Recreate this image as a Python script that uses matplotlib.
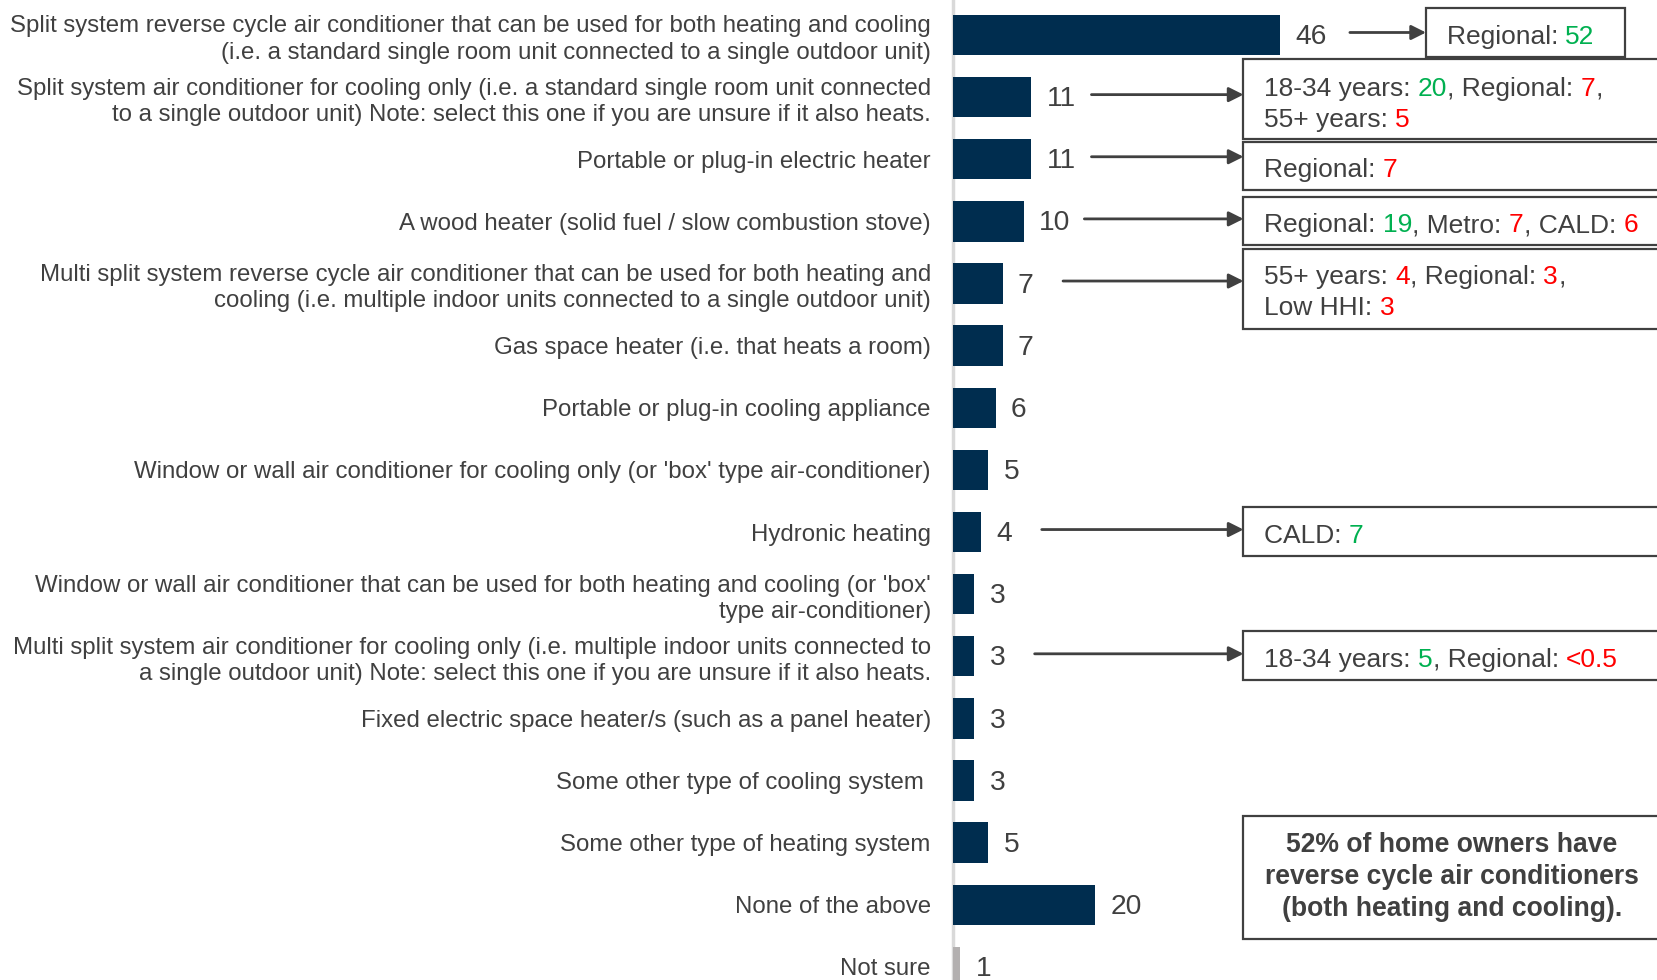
import matplotlib
matplotlib.use("Agg")
import matplotlib.pyplot as plt
from matplotlib.patches import Rectangle

plt.rcParams["font.family"] = ["Liberation Sans", "DejaVu Sans"]

GREY = "#404040"
GREEN = "#00B050"
RED = "#FF0000"
NAVY = "#002D4F"
LIGHT = "#B3B0B0"

categories = [
    "Split system reverse cycle air conditioner that can be used for both heating and cooling\n"
    "(i.e. a standard single room unit connected to a single outdoor unit)",
    "Split system air conditioner for cooling only (i.e. a standard single room unit connected\n"
    "to a single outdoor unit) Note: select this one if you are unsure if it also heats.",
    "Portable or plug-in electric heater",
    "A wood heater (solid fuel / slow combustion stove)",
    "Multi split system reverse cycle air conditioner that can be used for both heating and\n"
    "cooling (i.e. multiple indoor units connected to a single outdoor unit)",
    "Gas space heater (i.e. that heats a room)",
    "Portable or plug-in cooling appliance",
    "Window or wall air conditioner for cooling only (or 'box' type air-conditioner)",
    "Hydronic heating",
    "Window or wall air conditioner that can be used for both heating and cooling (or 'box'\n"
    "type air-conditioner)",
    "Multi split system air conditioner for cooling only (i.e. multiple indoor units connected to\n"
    "a single outdoor unit) Note: select this one if you are unsure if it also heats.",
    "Fixed electric space heater/s (such as a panel heater)",
    "Some other type of cooling system ",
    "Some other type of heating system",
    "None of the above",
    "Not sure",
]
values = [46, 11, 11, 10, 7, 7, 6, 5, 4, 3, 3, 3, 3, 5, 20, 1]

# subgroup callouts: row -> lines of (text, colour) pieces
callout_rows = [0, 1, 2, 3, 4, 8, 10]
callout_lines = [
    [[("Regional: ", GREY), ("52", GREEN)]],
    [[("18-34 years: ", GREY), ("20", GREEN), (", Regional: ", GREY), ("7", RED), (",", GREY)],
     [("55+ years: ", GREY), ("5", RED)]],
    [[("Regional: ", GREY), ("7", RED)]],
    [[("Regional: ", GREY), ("19", GREEN), (", Metro: ", GREY), ("7", RED),
      (", CALD: ", GREY), ("6", RED)]],
    [[("55+ years: ", GREY), ("4", RED), (", Regional: ", GREY), ("3", RED), (",", GREY)],
     [("Low HHI: ", GREY), ("3", RED)]],
    [[("CALD: ", GREY), ("7", GREEN)]],
    [[("18-34 years: ", GREY), ("5", GREEN), (", Regional: ", GREY), ("<0.5", RED)]],
]
summary_text = ("52% of home owners have\nreverse cycle air conditioners\n"
                "(both heating and cooling).")

W, H = 1658, 980
fig = plt.figure(figsize=(W / 100, H / 100), dpi=100)
x0 = 953
ax = fig.add_axes([x0 / W, 0, (W - x0) / W, 1])
ax.set_xlim(0, (W - x0) / 7.1)
ax.set_ylim(15.21, -0.563)
for s in ax.spines.values():
    s.set_visible(False)
ax.set_xticks([])

rows = list(range(len(values)))
colors = [NAVY] * (len(values) - 1) + [LIGHT]
ax.barh(rows, values, height=0.65, color=colors)
ax.axvline(0, color="#D9D9D9", lw=2.5, clip_on=False, zorder=0)

ax.set_yticks(rows)
ax.set_yticklabels(categories, fontsize=17.3, color=GREY, linespacing=1.25)
ax.tick_params(axis="y", length=0, pad=16)

for r, v in zip(rows, values):
    ax.annotate(str(v), (v, r), xytext=(11, -1.5), textcoords="offset points",
                va="center", ha="left", fontsize=20.3, color=GREY)


def rich(x, y, parts, size):
    t = ax.text(x, y, parts[0][0], color=parts[0][1], fontsize=size,
                va="center", ha="left", zorder=4)
    for s, c in parts[1:]:
        t = ax.annotate(s, xy=(1, 0), xycoords=t, color=c, fontsize=size,
                        va="bottom", ha="left", zorder=4)
    return t


box_left = (1243.5 - x0) / 7.1
pad = 2.9
for r, lines in zip(callout_rows, callout_lines):
    v = values[r]
    if r == 0:
        bx, bw = (1426 - x0) / 7.1, 199 / 7.1
        by, bh = -0.43, 0.78
    elif len(lines) == 2:
        bx, bw = box_left, 80
        by, bh = r - 0.62 + (0.06 if r == 4 else 0.0), 1.3
    else:
        bx, bw = box_left, 80
        by, bh = r - 0.4 + (0.12 if r == 2 else 0.0), 0.78
    ax.add_patch(Rectangle((bx, by), bw, bh, facecolor="white",
                           edgecolor=GREY, lw=1.6, clip_on=False, zorder=3))
    ay = r - 0.04
    ax.annotate("", xy=(bx, ay), xytext=(v + (9.9 if r == 0 else 8.5), ay),
                arrowprops=dict(arrowstyle="-|>", color=GREY, lw=2,
                                mutation_scale=22, shrinkA=0, shrinkB=0))
    cy = by + bh / 2
    if len(lines) == 1:
        rich(bx + pad, cy + 0.07, lines[0], 19)
    else:
        off = 0.06 if r == 1 else 0.03
        for k, ln in enumerate(lines):
            rich(bx + pad, cy - 0.22 + 0.5 * k + off, ln, 19)

# summary box
ax.add_patch(Rectangle((box_left, 12.57), 80, 1.98, facecolor="white",
                       edgecolor=GREY, lw=1.6, clip_on=False, zorder=3))
ax.text((1452 - x0) / 7.1, 13.55, summary_text, ha="center", va="center",
        fontsize=19.1, fontweight="bold", color=GREY, linespacing=1.3,
        zorder=4)

fig.savefig("out.png", dpi=100)
